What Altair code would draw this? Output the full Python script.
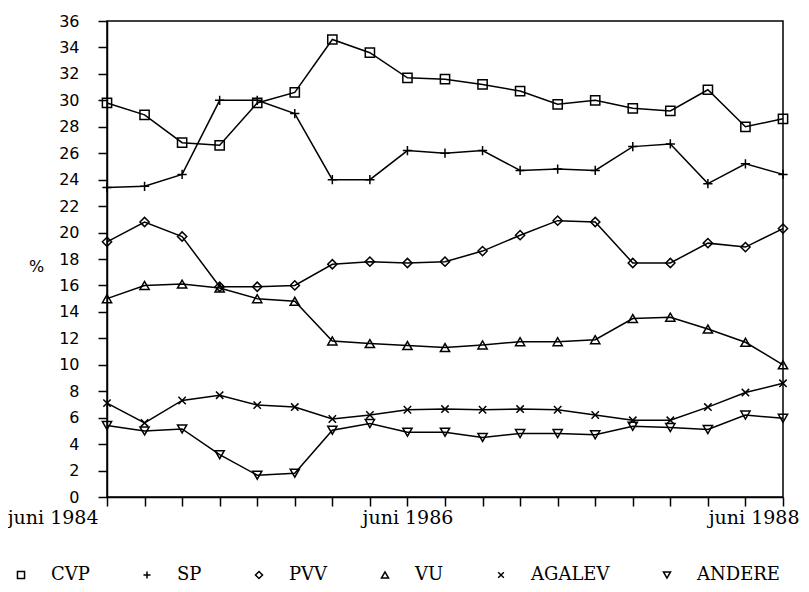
import altair as alt
import pandas as pd

# ---- data ----
x_index = list(range(19))
parties = ["CVP", "SP", "PVV", "VU", "AGALEV", "ANDERE"]
cvp = [29.8, 28.9, 26.8, 26.6, 29.8, 30.6, 34.6, 33.6, 31.7, 31.6, 31.2, 30.7, 29.7, 30.0, 29.4, 29.2, 30.8, 28.0, 28.6]
sp = [23.4, 23.5, 24.4, 30.0, 30.0, 29.0, 24.0, 24.0, 26.2, 26.0, 26.2, 24.7, 24.8, 24.7, 26.5, 26.7, 23.7, 25.2, 24.4]
pvv = [19.3, 20.8, 19.7, 15.9, 15.9, 16.0, 17.6, 17.8, 17.7, 17.8, 18.6, 19.8, 20.9, 20.8, 17.7, 17.7, 19.2, 18.9, 20.3]
vu = [15.0, 16.0, 16.1, 15.8, 15.0, 14.8, 11.8, 11.6, 11.45, 11.3, 11.5, 11.75, 11.75, 11.9, 13.5, 13.6, 12.7, 11.7, 10.0]
agalev = [7.1, 5.6, 7.3, 7.7, 6.95, 6.8, 5.9, 6.2, 6.6, 6.65, 6.6, 6.65, 6.6, 6.2, 5.8, 5.8, 6.8, 7.9, 8.6]
andere = [5.4, 5.0, 5.15, 3.2, 1.65, 1.8, 5.05, 5.55, 4.9, 4.9, 4.5, 4.8, 4.8, 4.7, 5.35, 5.25, 5.1, 6.2, 5.95]
series = [cvp, sp, pvv, vu, agalev, andere]

tick_label_pos = [0, 8, 18]
tick_labels = ["juni 1984", "juni 1986", "juni 1988"]
y_ticks = list(range(0, 37, 2))

rows = []
for p, vals in zip(parties, series):
    for i, v in zip(x_index, vals):
        rows.append({"idx": i, "party": p, "value": v})
df = pd.DataFrame(rows)

plus_path = "M-1,0L1,0M0,-1L0,1"
times_path = "M-0.8,-0.8L0.8,0.8M-0.8,0.8L0.8,-0.8"
shapes = ["square", plus_path, "diamond", "triangle-up", times_path, "triangle-down"]

label_expr = " : ".join(
    f"datum.value == {p} ? '{t}'" for p, t in zip(tick_label_pos, tick_labels)
) + " : ''"

x_enc = alt.X(
    "idx:Q",
    scale=alt.Scale(domain=[0, 18], nice=False, zero=False),
    axis=alt.Axis(
        values=x_index,
        labelExpr=label_expr,
        title=None,
        grid=False,
        tickSize=9,
        tickWidth=1.5,
        domainWidth=1.5,
        labelFont="DejaVu Serif",
        labelFontSize=19,
        labelPadding=2,
        labelOverlap=False,
        labelFlush=False,
        labelAlign={"condition": {"test": "datum.value == 8", "value": "center"}, "value": "right"},
        labelOffset={
            "condition": [
                {"test": "datum.value == 0", "value": -9},
                {"test": "datum.value == 18", "value": 16},
            ],
            "value": 0,
        },
    ),
)

y_enc = alt.Y(
    "value:Q",
    scale=alt.Scale(domain=[0, 36], nice=False),
    axis=alt.Axis(
        values=y_ticks,
        title="%",
        titleAngle=0,
        titleFont="DejaVu Sans",
        titleFontSize=16,
        titleFontWeight="normal",
        titleX=-71,
        titleY=245,
        titleAlign="center",
        titleBaseline="middle",
        labelFont="DejaVu Sans",
        labelFontSize=16,
        labelPadding=19,
        tickSize=9,
        tickWidth=1.5,
        domainWidth=1.5,
        grid=False,
    ),
)

lines = alt.Chart(df).mark_line(color="black", strokeWidth=1.5).encode(
    x=x_enc, y=y_enc, detail="party:N"
)

points = alt.Chart(df).mark_point(
    filled=False, color="black", strokeWidth=1.5, size=85, opacity=1
).encode(
    x=x_enc,
    y=y_enc,
    shape=alt.Shape(
        "party:N",
        scale=alt.Scale(domain=parties, range=shapes),
        legend=alt.Legend(
            title=None,
            orient="none",
            legendX=-95,
            legendY=545,
            direction="horizontal",
            columns=6,
            labelFont="DejaVu Serif",
            labelFontSize=18,
            labelColor="black",
            symbolSize=50,
            symbolStrokeWidth=1.5,
            symbolStrokeColor="black",
            labelOffset=21,
            columnPadding=48,
        ),
    ),
)

chart = (
    alt.layer(lines, points)
    .properties(
        width=676,
        height=476,
        autosize=alt.AutoSizeParams(type="none"),
        padding={"left": 99, "top": 13, "right": 18, "bottom": 87},
    )
    .configure_view(stroke="black", strokeWidth=1.5)
    .configure_axis(domainColor="black", tickColor="black", labelColor="black", titleColor="black")
)

chart.save("out.html", embed_options={"renderer": "svg", "actions": False})
